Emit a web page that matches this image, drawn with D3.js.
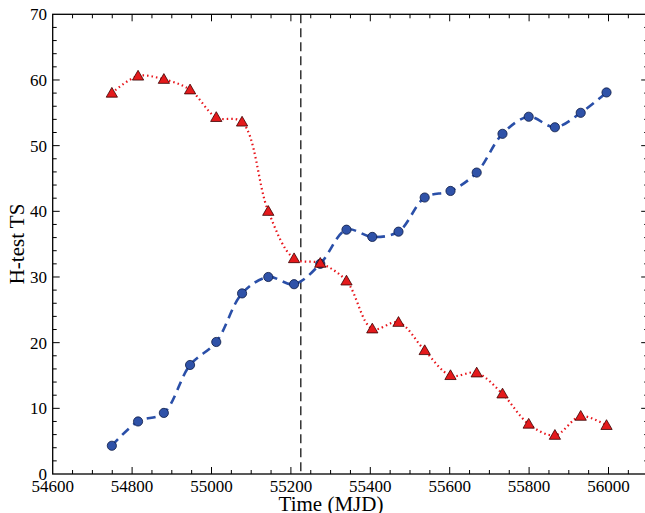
<!DOCTYPE html>
<html><head><meta charset="utf-8">
<script src="https://cdn.jsdelivr.net/npm/d3@7"></script>
<style>body{margin:0;background:#fff}svg{font-family:"Liberation Serif","Times New Roman",serif}</style>
</head><body><svg width="645" height="513"></svg>
<script>
var times = [54749, 54815, 54880, 54946, 55012, 55077, 55143, 55208, 55274, 55340,
             55405, 55471, 55537, 55602, 55668, 55733, 55799, 55865, 55930, 55995];
var blueTS = [4.3, 8.0, 9.3, 16.6, 20.1, 27.5, 30.0, 28.9, 32.0, 37.2,
              36.1, 36.9, 42.1, 43.1, 45.9, 51.8, 54.4, 52.8, 55.0, 58.1];
var redTS = [58.0, 60.6, 60.1, 58.5, 54.3, 53.6, 40.0, 32.8, 32.1, 29.4,
             22.1, 23.1, 18.8, 15.0, 15.4, 12.2, 7.6, 5.9, 8.8, 7.4];
var markerTime = 55225;
var xTicks = [54600, 54800, 55000, 55200, 55400, 55600, 55800, 56000];
var yTicks = [0, 10, 20, 30, 40, 50, 60, 70];

var svg = d3.select('svg');
var x = d3.scaleLinear().domain([54600, 56100]).range([52.7, 648.2]);
var y = d3.scaleLinear().domain([0, 70]).range([474, 14.3]);

// frame
svg.append('rect').attr('x', 52.7).attr('y', 14.3).attr('width', 595.5).attr('height', 459.7)
   .attr('fill', 'none').attr('stroke', '#000').attr('stroke-width', 1.3);

// minor + major ticks (inward)
var xMinor = d3.range(54650, 56100, 50);
var yMinor = d3.range(2, 70, 2);
var g = svg.append('g').attr('stroke', '#000').attr('stroke-width', 1);
xMinor.forEach(function (t) {
    var big = xTicks.indexOf(t) >= 0;
    var len = big ? 7 : 4;
    g.append('line').attr('x1', x(t)).attr('x2', x(t)).attr('y1', 474).attr('y2', 474 - len);
    g.append('line').attr('x1', x(t)).attr('x2', x(t)).attr('y1', 14.3).attr('y2', 14.3 + len);
});
yMinor.forEach(function (t) {
    var big = yTicks.indexOf(t) >= 0;
    var len = big ? 7 : 4;
    g.append('line').attr('y1', y(t)).attr('y2', y(t)).attr('x1', 52.7).attr('x2', 52.7 + len);
    g.append('line').attr('y1', y(t)).attr('y2', y(t)).attr('x1', 648.2).attr('x2', 648.2 - len);
});

svg.selectAll('.xl').data(xTicks).enter().append('text')
   .attr('x', function (d) { return x(d); }).attr('y', 492)
   .attr('text-anchor', 'middle').attr('font-size', 17).text(function (d) { return d; });
svg.selectAll('.yl').data(yTicks).enter().append('text')
   .attr('x', 47).attr('y', function (d) { return y(d) + 6; })
   .attr('text-anchor', 'end').attr('font-size', 17).text(function (d) { return d; });

svg.append('text').attr('x', 331).attr('y', 511).attr('text-anchor', 'middle')
   .attr('font-size', 21).text('Time (MJD)');
svg.append('text').attr('transform', 'translate(24,244) rotate(-90)').attr('text-anchor', 'middle')
   .attr('font-size', 21).text('H-test TS');

// vertical marker
svg.append('line').attr('x1', x(markerTime)).attr('x2', x(markerTime))
   .attr('y1', 14.3).attr('y2', 474).attr('stroke', '#000').attr('stroke-width', 1.2)
   .attr('stroke-dasharray', '9,5');

var blue = times.map(function (t, i) { return [t, blueTS[i]]; });
var red = times.map(function (t, i) { return [t, redTS[i]]; });
var line = d3.line().curve(d3.curveCatmullRom)
    .x(function (d) { return x(d[0]); }).y(function (d) { return y(d[1]); });

svg.append('path').datum(red).attr('d', line).attr('fill', 'none')
   .attr('stroke', '#e8141a').attr('stroke-width', 2.2).attr('stroke-dasharray', '1.5,3');
svg.append('path').datum(blue).attr('d', line).attr('fill', 'none')
   .attr('stroke', '#2a4fa8').attr('stroke-width', 2.6).attr('stroke-dasharray', '9,6');

svg.selectAll('.bc').data(blue).enter().append('circle')
   .attr('cx', function (d) { return x(d[0]); }).attr('cy', function (d) { return y(d[1]); })
   .attr('r', 4.6).attr('fill', '#2f52a8').attr('stroke', '#0d1a44').attr('stroke-width', 0.8);
var tri = d3.symbol().type(d3.symbolTriangle).size(55);
svg.selectAll('.rt').data(red).enter().append('path')
   .attr('transform', function (d) { return 'translate(' + x(d[0]) + ',' + (y(d[1]) + 0.8) + ')'; })
   .attr('d', tri).attr('fill', '#e41a1c').attr('stroke', '#3a0000').attr('stroke-width', 0.8);
</script></body></html>
